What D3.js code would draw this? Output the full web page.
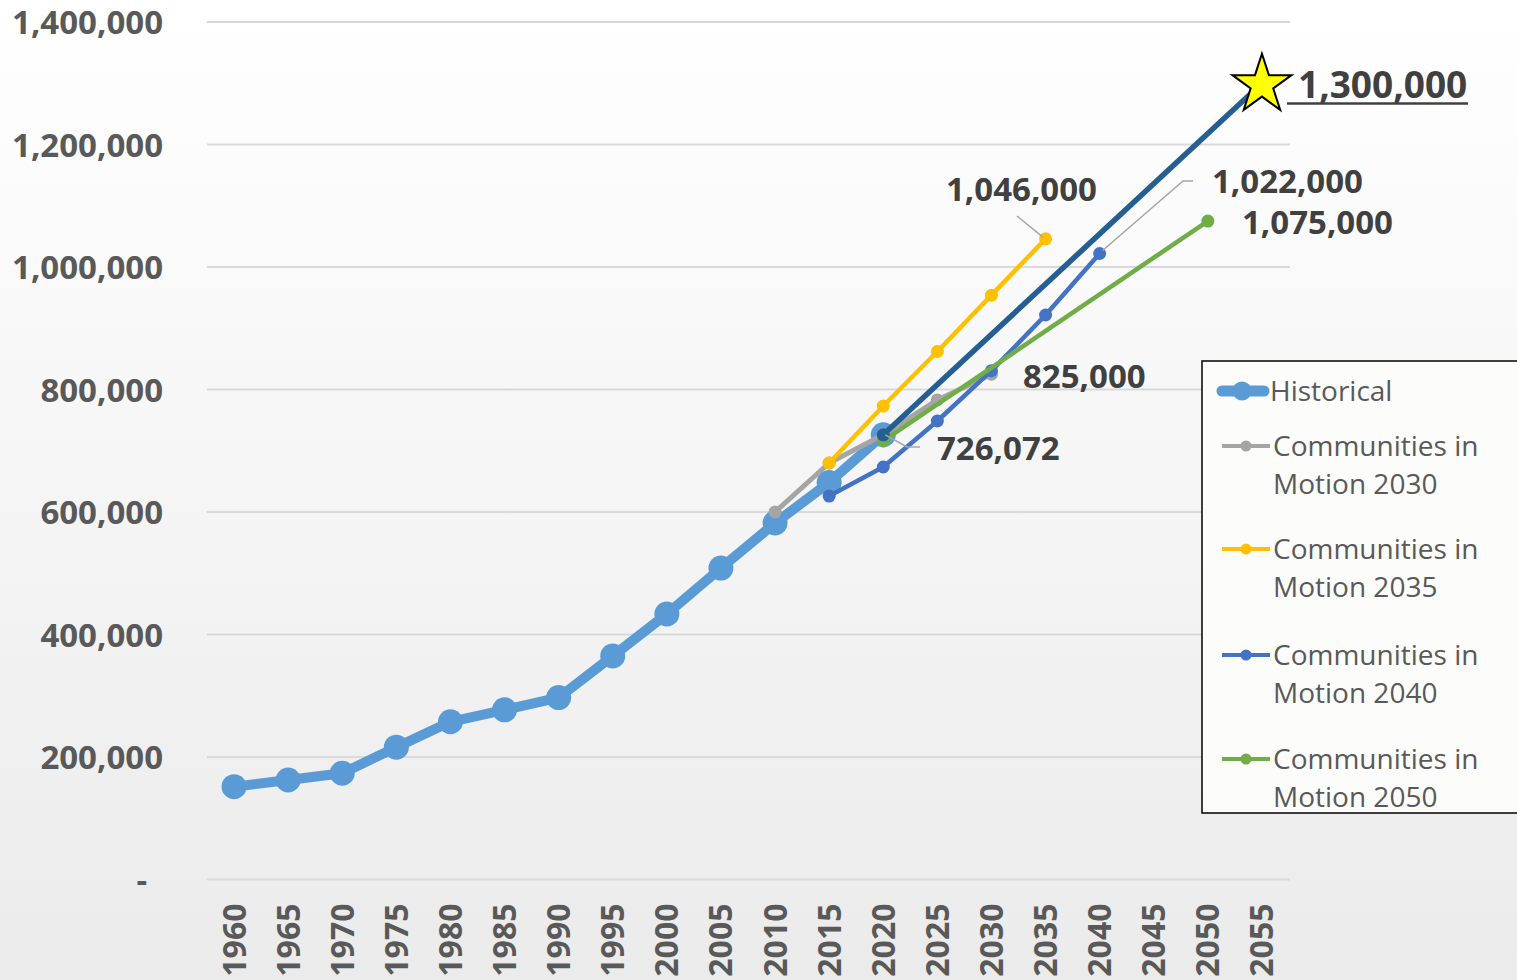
<!DOCTYPE html>
<html>
<head>
<meta charset="utf-8">
<script src="https://cdn.jsdelivr.net/npm/d3@7"></script>
<style>
  html, body { margin: 0; padding: 0; overflow: hidden; }
  svg { display: block; font-family: "Open Sans", "Noto Sans", sans-serif; }
</style>
</head>
<body>
<svg id="chart" width="1517" height="980"></svg>
<script>
// ---------- data ----------
const years = ["1960","1965","1970","1975","1980","1985","1990","1995","2000","2005",
               "2010","2015","2020","2025","2030","2035","2040","2045","2050","2055"];
const historical = [151500,162500,173500,216000,257500,277000,297000,365000,433500,508500,
                    582000,648000,726072,null,null,null,null,null,null,null];
const cim2030 = [null,null,null,null,null,null,null,null,null,null,
                 600000,680000,726000,783000,825000,null,null,null,null,null];
const cim2035 = [null,null,null,null,null,null,null,null,null,null,
                 null,680000,773000,862000,954000,1046000,null,null,null,null];
const cim2040 = [null,null,null,null,null,null,null,null,null,null,
                 null,626000,673500,748600,830700,921600,1022000,null,null,null];
const cim2050 = [null,null,null,null,null,null,null,null,null,null,
                 null,null,716000,null,null,null,null,null,1075000,null];
const target  = [null,null,null,null,null,null,null,null,null,null,
                 null,null,726072,null,null,null,null,null,null,1300000];
const yTicks = [0,200000,400000,600000,800000,1000000,1200000,1400000];
const legendNames = ["Historical","Communities in Motion 2030","Communities in Motion 2035",
                     "Communities in Motion 2040","Communities in Motion 2050"];

// ---------- setup ----------
const svg = d3.select("#chart");
const W = 1517, H = 980;
const defs = svg.append("defs");
const grad = defs.append("linearGradient").attr("id","bg").attr("x1",0).attr("y1",0).attr("x2",0).attr("y2",1);
grad.append("stop").attr("offset","0%").attr("stop-color","#ffffff");
grad.append("stop").attr("offset","100%").attr("stop-color","#ebebeb");
svg.append("rect").attr("width",W).attr("height",H).attr("fill","url(#bg)");

const x = d3.scaleBand().domain(years).range([207, 1289]);
const xc = d => x(d) + x.bandwidth()/2;
const y = d3.scaleLinear().domain([0,1400000]).range([879.5, 22]);

// gridlines
svg.append("g").selectAll("line").data(yTicks).join("line")
  .attr("x1",207).attr("x2",1290)
  .attr("y1",d=>y(d)).attr("y2",d=>y(d))
  .attr("stroke","#d9d9d9").attr("stroke-width",2);

// y axis
const yAxis = svg.append("g").attr("transform","translate(207,0)")
  .call(d3.axisLeft(y).tickValues(yTicks).tickSize(0).tickPadding(44)
        .tickFormat(d => d === 0 ? "-" : d3.format(",")(d)));
yAxis.select(".domain").remove();
yAxis.selectAll("text").attr("font-family","'Open Sans', sans-serif")
  .attr("font-size",33).attr("font-weight","bold").attr("fill","#595959")
  .attr("dy","0.36em");
yAxis.selectAll(".tick").filter(d=>d===0).select("text").attr("x",-60);

// x axis
const xAxis = svg.append("g").attr("transform","translate(0,879.5)")
  .call(d3.axisBottom(x).tickSize(0));
xAxis.select(".domain").remove();
xAxis.selectAll("text").attr("font-family","'Open Sans', sans-serif")
  .attr("font-size",32).attr("font-weight","bold").attr("fill","#595959")
  .attr("transform","rotate(-90)").attr("text-anchor","end")
  .attr("x",-24).attr("y",0).attr("dy","0.36em");

// ---------- series ----------
function pts(arr){ return years.map((yr,i)=>({yr, v:arr[i]})).filter(p=>p.v!==null); }
const line = d3.line().x(p=>xc(p.yr)).y(p=>y(p.v));

const series = [
  {data:historical, color:"#5b9bd5", w:10, r:12.5, markers:"all"},
  {data:cim2030, color:"#a5a5a5", w:5, r:6.5, markers:"all"},
  {data:cim2035, color:"#ffc000", w:4.5, r:6.5, markers:"all"},
  {data:cim2040, color:"#4472c4", w:4.5, r:6.5, markers:"all"},
  {data:cim2050, color:"#70ad47", w:4.5, r:6.5, markers:"all"},
  {data:target, color:"#255e91", w:5.5, r:6.5, markers:"first"}
];
series.forEach(s=>{
  const p = pts(s.data);
  const g = svg.append("g");
  g.append("path").attr("d",line(p)).attr("fill","none")
    .attr("stroke",s.color).attr("stroke-width",s.w).attr("stroke-linejoin","round");
  const mp = s.markers==="all" ? p : [p[0]];
  g.selectAll("circle").data(mp).join("circle")
    .attr("cx",d=>xc(d.yr)).attr("cy",d=>y(d.v)).attr("r",s.r).attr("fill",s.color);
});

// star at target end
const tp = pts(target); const last = tp[tp.length-1];
svg.append("path").attr("d", d3.symbol().type(d3.symbolStar).size(1080)())
  .attr("transform",`translate(${xc(last.yr)},${y(last.v)+1.5})`)
  .attr("fill","#ffff00").attr("stroke","#000").attr("stroke-width",2);

// ---------- leader lines ----------
const leader = (pp)=> svg.append("polyline").attr("points",pp.map(p=>p.join(",")).join(" "))
  .attr("fill","none").attr("stroke","#a6a6a6").attr("stroke-width",1.5);
leader([[xc("2035")-3, y(1046000)-2],[1017,216]]);
leader([[xc("2040")+3, y(1022000)-3],[1183,181],[1193,181]]);
leader([[xc("2020")+2, y(726072)],[907,447],[920,447]]);

// ---------- data labels ----------
const lab = (t,xx,yy,fs)=> svg.append("text").attr("x",xx).attr("y",yy).text(t)
  .attr("font-family","'Open Sans', sans-serif").attr("font-weight","bold")
  .attr("font-size",fs||33).attr("fill","#404040");
lab("1,046,000",946,201);
lab("1,022,000",1212,193);
lab("1,075,000",1242,234);
lab("825,000",1023,388);
lab("726,072",937,460);
lab("1,300,000",1298,98,37);
svg.append("line").attr("x1",1287).attr("x2",1468).attr("y1",103.5).attr("y2",103.5)
  .attr("stroke","#404040").attr("stroke-width",2.5);

// ---------- legend ----------
const lg = svg.append("g");
lg.append("rect").attr("x",1202).attr("y",361).attr("width",330).attr("height",452)
  .attr("fill","#fcfcfa").attr("stroke","#000").attr("stroke-width",1.5);
const legendColors = series.slice(0,5).map(s=>s.color);
const legendY = [391, 446, 549, 655, 759];
legendNames.forEach((name,i)=>{
  const cy = legendY[i];
  if(i===0){
    lg.append("line").attr("x1",1222).attr("x2",1264).attr("y1",cy).attr("y2",cy)
      .attr("stroke",legendColors[i]).attr("stroke-width",11).attr("stroke-linecap","round");
    lg.append("circle").attr("cx",1242).attr("cy",cy).attr("r",9.5).attr("fill",legendColors[i]);
    lg.append("text").attr("x",1270).attr("y",cy+10).text(name)
      .attr("font-size",28).attr("fill","#595959");
  } else {
    lg.append("line").attr("x1",1222).attr("x2",1270).attr("y1",cy).attr("y2",cy)
      .attr("stroke",legendColors[i]).attr("stroke-width",4);
    lg.append("circle").attr("cx",1246).attr("cy",cy).attr("r",5.5).attr("fill",legendColors[i]);
    const words = name.split(" ");
    const t = lg.append("text").attr("font-size",28).attr("fill","#595959");
    t.append("tspan").attr("x",1273).attr("y",cy+10).text(words.slice(0,2).join(" "));
    t.append("tspan").attr("x",1273).attr("y",cy+48).text(words.slice(2).join(" "));
  }
});
</script>
</body>
</html>
